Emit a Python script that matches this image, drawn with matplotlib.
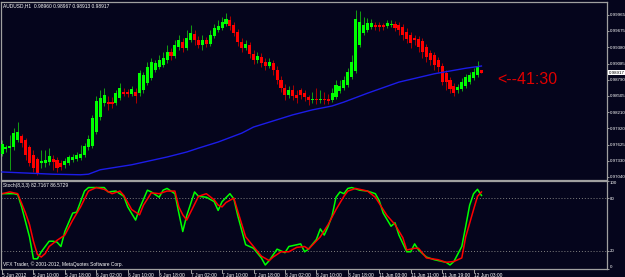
import numpy as np
import matplotlib
matplotlib.use('Agg')
import matplotlib.pyplot as plt
from matplotlib.transforms import ScaledTranslation, blended_transform_factory

# AUDUSD H1 candles, 5 Jun 2012 .. 12 Jun 2012
opens = [0.9745, 0.9754, 0.9756, 0.9758, 0.9771, 0.9778, 0.9771, 0.9758, 0.9744, 0.9736,
         0.9729, 0.9729, 0.9731, 0.9736, 0.9735, 0.9729, 0.9726, 0.9729, 0.9735, 0.9736,
         0.9738, 0.9744, 0.9758, 0.9760, 0.9785, 0.9812, 0.9837, 0.9839, 0.9839, 0.9837,
         0.9846, 0.9857, 0.9857, 0.9854, 0.9857, 0.9855, 0.9861, 0.9873, 0.9882, 0.9897,
         0.9902, 0.9906, 0.9915, 0.9929, 0.9922, 0.9938, 0.9947, 0.9937, 0.9951, 0.9962,
         0.9951, 0.9942, 0.9951, 0.9944, 0.9958, 0.9969, 0.9973, 0.9980, 0.9987, 0.9978,
         0.9965, 0.9947, 0.9937, 0.9942, 0.9926, 0.9915, 0.9920, 0.9911, 0.9904, 0.9909,
         0.9897, 0.9879, 0.9864, 0.9852, 0.9861, 0.9852, 0.9861, 0.9855, 0.9848, 0.9843,
         0.9845, 0.9843, 0.9845, 0.9845, 0.9843, 0.9848, 0.9859, 0.9864, 0.9870, 0.9884,
         0.9895, 0.9942, 0.9964, 0.9969, 0.9974, 0.9978, 0.9978, 0.9978, 0.9976, 0.9978,
         0.9980, 0.9978, 0.9974, 0.9965, 0.9960, 0.9955, 0.9953, 0.9949, 0.9938, 0.9928,
         0.9924, 0.9915, 0.9904, 0.9891, 0.9879, 0.9868, 0.9861, 0.9863, 0.9868, 0.9875,
         0.9882, 0.9888, 0.98960]
highs = [0.9771, 0.9762, 0.9780, 0.9792, 0.9803, 0.9782, 0.9774, 0.9762, 0.9753, 0.9740,
         0.9753, 0.9753, 0.9756, 0.9744, 0.9740, 0.9735, 0.9738, 0.9744, 0.9745, 0.9749,
         0.9762, 0.9765, 0.9780, 0.9816, 0.9850, 0.9861, 0.9864, 0.9850, 0.9848, 0.9861,
         0.9873, 0.9864, 0.9863, 0.9868, 0.9864, 0.9897, 0.9893, 0.9911, 0.9919, 0.9915,
         0.9924, 0.9929, 0.9942, 0.9937, 0.9951, 0.9960, 0.9955, 0.9969, 0.9978, 0.9969,
         0.9958, 0.9960, 0.9956, 0.9969, 0.9980, 0.9987, 0.9992, 1.0000, 0.9994, 0.9983,
         0.9971, 0.9955, 0.9951, 0.9947, 0.9933, 0.9929, 0.9928, 0.9919, 0.9919, 0.9915,
         0.9904, 0.9886, 0.9872, 0.9868, 0.9870, 0.9861, 0.9864, 0.9861, 0.9852, 0.9857,
         0.9864, 0.9861, 0.9857, 0.9854, 0.9864, 0.9879, 0.9879, 0.9886, 0.9900, 0.9924,
         1.0005, 1.0003, 0.9992, 0.9991, 0.9989, 0.9983, 0.9983, 0.9982, 0.9987, 0.9987,
         0.9985, 0.9983, 0.9980, 0.9973, 0.9965, 0.9960, 0.9958, 0.9955, 0.9944, 0.9933,
         0.9929, 0.9920, 0.9909, 0.9897, 0.9884, 0.9873, 0.9872, 0.9882, 0.9890, 0.9893,
         0.9900, 0.9913, 0.98967]
lows = [0.9742, 0.9749, 0.9717, 0.9753, 0.9767, 0.9758, 0.9735, 0.9724, 0.9713, 0.9708,
        0.9720, 0.9722, 0.9726, 0.9717, 0.9713, 0.9717, 0.9720, 0.9726, 0.9731, 0.9733,
        0.9735, 0.9740, 0.9753, 0.9756, 0.9782, 0.9807, 0.9832, 0.9825, 0.9828, 0.9834,
        0.9843, 0.9850, 0.9848, 0.9850, 0.9837, 0.9850, 0.9855, 0.9870, 0.9879, 0.9893,
        0.9899, 0.9902, 0.9909, 0.9915, 0.9919, 0.9933, 0.9929, 0.9933, 0.9947, 0.9942,
        0.9937, 0.9933, 0.9938, 0.9940, 0.9955, 0.9965, 0.9969, 0.9976, 0.9969, 0.9958,
        0.9940, 0.9929, 0.9933, 0.9919, 0.9908, 0.9909, 0.9902, 0.9897, 0.9900, 0.9888,
        0.9872, 0.9857, 0.9843, 0.9846, 0.9843, 0.9837, 0.9845, 0.9841, 0.9834, 0.9837,
        0.9836, 0.9837, 0.9836, 0.9836, 0.9839, 0.9845, 0.9855, 0.9861, 0.9866, 0.9881,
        0.9891, 0.9938, 0.9960, 0.9965, 0.9971, 0.9969, 0.9967, 0.9969, 0.9973, 0.9974,
        0.9967, 0.9960, 0.9951, 0.9946, 0.9937, 0.9942, 0.9929, 0.9919, 0.9911, 0.9906,
        0.9897, 0.9893, 0.9870, 0.9861, 0.9855, 0.9850, 0.9855, 0.9859, 0.9864, 0.9872,
        0.9879, 0.9884, 0.98913]
closes = [0.9763, 0.9758, 0.9760, 0.9783, 0.9785, 0.9765, 0.9744, 0.9729, 0.9720, 0.9711,
          0.9733, 0.9735, 0.9742, 0.9731, 0.9720, 0.9722, 0.9733, 0.9740, 0.9740, 0.9744,
          0.9745, 0.9760, 0.9773, 0.9810, 0.9841, 0.9846, 0.9852, 0.9836, 0.9836, 0.9855,
          0.9864, 0.9854, 0.9854, 0.9863, 0.9850, 0.9891, 0.9888, 0.9902, 0.9911, 0.9909,
          0.9915, 0.9919, 0.9929, 0.9922, 0.9942, 0.9951, 0.9937, 0.9955, 0.9964, 0.9951,
          0.9942, 0.9951, 0.9944, 0.9960, 0.9973, 0.9976, 0.9983, 0.9989, 0.9976, 0.9964,
          0.9947, 0.9937, 0.9944, 0.9926, 0.9915, 0.9922, 0.9909, 0.9904, 0.9911, 0.9897,
          0.9879, 0.9864, 0.9852, 0.9861, 0.9850, 0.9846, 0.9852, 0.9848, 0.9843, 0.9845,
          0.9843, 0.9845, 0.9843, 0.9841, 0.9855, 0.9870, 0.9868, 0.9879, 0.9893, 0.9911,
          0.9989, 0.9983, 0.9978, 0.9982, 0.9982, 0.9974, 0.9974, 0.9974, 0.9982, 0.9980,
          0.9973, 0.9969, 0.9960, 0.9953, 0.9946, 0.9951, 0.9938, 0.9929, 0.9920, 0.9915,
          0.9906, 0.9902, 0.9875, 0.9875, 0.9863, 0.9855, 0.9866, 0.9875, 0.9884, 0.9888,
          0.9893, 0.9904, 0.98917]

# moving average (blue), sampled along the line
ma_bars = [0, 13, 20, 22, 25, 33, 42, 47, 50, 55, 61, 64, 69, 74, 79, 84, 87, 93, 101, 110, 118, 122]
ma_vals = [0.9713, 0.9709, 0.9708, 0.9709, 0.9717, 0.9726, 0.9740, 0.9749, 0.9756, 0.9767, 0.9783,
           0.9794, 0.9805, 0.9816, 0.9825, 0.9832, 0.9839, 0.9855, 0.9875, 0.9890, 0.9900, 0.9904]

# stochastic (8,3,3): main (green) and signal (red)
k_bars = [0, 1, 3, 4, 5, 7, 8, 9, 10, 12, 13, 14, 15, 16, 18, 19, 21, 22, 24, 26,
          27, 29, 31, 32, 34, 35, 37, 38, 40, 41, 42, 44, 45, 46, 47, 49, 50, 52, 54, 55,
          56, 58, 59, 60, 62, 63, 64, 66, 67, 68, 70, 72, 73, 75, 76, 77, 78, 80, 81, 82,
          83, 84, 85, 86, 87, 88, 89, 91, 93, 95, 96, 97, 99, 100, 101, 103, 104, 105, 106, 108,
          110, 112, 113, 114, 115, 117, 118, 119, 120, 121, 122]
k_vals = [85, 85, 85, 84, 70, 36, 11, 11, 19, 31, 31, 30, 25, 42, 63, 64, 88, 92, 92, 92,
          87, 88, 82, 70, 55, 68, 89, 87, 81, 89, 91, 85, 63, 42, 60, 87, 82, 81, 76, 66,
          76, 85, 79, 60, 27, 25, 23, 12, 4, 9, 22, 18, 25, 27, 28, 19, 22, 33, 45, 38,
          48, 60, 81, 87, 85, 91, 92, 89, 88, 85, 77, 63, 48, 52, 38, 19, 19, 28, 21, 13,
          10, 8, 7, 4, 8, 25, 48, 72, 85, 90, 83]
d_bars = [0, 2, 4, 6, 7, 8, 9, 10, 11, 12, 14, 16, 18, 20, 22, 24, 26, 28, 30, 31,
          33, 35, 36, 38, 40, 42, 44, 45, 46, 47, 48, 50, 52, 54, 55, 56, 57, 59, 60, 62,
          64, 66, 68, 69, 71, 73, 75, 77, 78, 81, 83, 85, 87, 88, 90, 93, 95, 98, 100, 102,
          103, 105, 106, 108, 111, 113, 115, 117, 118, 120, 121, 122]
d_vals = [85, 87, 85, 63, 50, 31, 16, 13, 17, 25, 32, 38, 55, 70, 88, 92, 90, 85, 88, 83,
          67, 61, 72, 86, 85, 88, 88, 70, 61, 55, 64, 82, 85, 78, 72, 70, 75, 80, 65, 36,
          25, 14, 9, 13, 19, 19, 24, 25, 22, 36, 50, 67, 82, 88, 91, 88, 81, 60, 50, 35,
          21, 23, 23, 12, 10, 7, 8, 12, 36, 67, 82, 87]

time_bars = list(range(0, 121, 8))
time_labels = ['5 Jun 2012', '5 Jun 10:00', '5 Jun 18:00', '6 Jun 02:00', '6 Jun 10:00',
               '6 Jun 18:00', '7 Jun 02:00', '7 Jun 10:00', '7 Jun 18:00', '8 Jun 02:00',
               '8 Jun 10:00', '8 Jun 18:00', '11 Jun 03:00', '11 Jun 11:00', '11 Jun 19:00',
               '12 Jun 03:00']
price_ticks = [0.99965, 0.99675, 0.99380, 0.99085, 0.98790, 0.98505, 0.98210,
               0.97920, 0.97625, 0.97330, 0.97040]
stoch_ticks = [0, 20, 80, 100]

bg = '#05051c'
frame = '#a0a0a0'
small = ['Liberation Sans', 'DejaVu Sans']
fs = 3.5
W, H = 625, 277

fig = plt.figure(figsize=(6.25, 2.77), dpi=100, facecolor=bg)
ax = fig.add_axes([1 / W, 1 - 179.5 / H, 606 / W, 177.5 / H], facecolor=bg)
ax2 = fig.add_axes([1 / W, 1 - 268.5 / H, 606 / W, 88 / H], facecolor=bg)
xlim = (-0.25, -0.25 + 606 / 3.93)

# candles: wicks first, bodies on top
o = np.array(opens)
c = np.array(closes)
x = np.arange(len(c))
up = c >= o
wick_cols = np.where(up, '#129a12', '#a80000')
body_cols = np.where(up, '#00ff00', '#ff0000')
ax.vlines(x, lows, highs, colors=wick_cols, lw=0.72, zorder=2)
body = np.where(np.abs(c - o) < 0.00003, 0.00003, c - o)
ax.bar(x, body, bottom=o, width=0.78, color=body_cols, linewidth=0,
       antialiased=False, zorder=3)

ax.plot(ma_bars, ma_vals, color='#1c1ce8', lw=1.0, zorder=4)

ax.text(126, 0.9879, '<--41:30', color='#e00000', fontsize=11.5,
        family='Liberation Sans', va='center', ha='left')

ax.set_xlim(*xlim)
ax.set_ylim(1.0023 - 0.00018025 * 179.5, 1.0023 - 0.00018025 * 2)
ax.set_xticks([])
ax.yaxis.tick_right()
ax.set_yticks(price_ticks)
ax.set_yticklabels(['%.5f' % v for v in price_ticks], family=small)
ax.tick_params(axis='y', length=1.5, width=0.7, color=frame, labelcolor='white',
               labelsize=3.2, pad=0.4)

# current price marker
tr = blended_transform_factory(ax.transAxes, ax.transData)
ax.text(1.0, closes[-1], '%.5f' % closes[-1],
        transform=tr + ScaledTranslation(2 / 100, 0, fig.dpi_scale_trans),
        ha='left', va='center', fontsize=3.2, family=small, color='black',
        bbox=dict(facecolor='white', edgecolor='none', pad=0.4))

# stochastic window
ax2.axhline(80, color='#808080', lw=0.7, ls=(0, (1, 2)))
ax2.axhline(20, color='#808080', lw=0.7, ls=(0, (1, 2)))
ax2.plot(k_bars, k_vals, color='#00ff00', lw=1.1)
ax2.plot(d_bars, d_vals, color='#ff0000', lw=1.1)
ax2.set_xlim(*xlim)
ax2.set_ylim(0, 100)
ax2.yaxis.tick_right()
ax2.set_yticks(stoch_ticks)
ylabs = ax2.set_yticklabels([str(v) for v in stoch_ticks], family=small)
ylabs[0].set_va('bottom')
ylabs[-1].set_va('top')
ax2.tick_params(axis='y', length=1.5, width=0.7, color=frame, labelcolor='white',
                labelsize=3.2, pad=0.4)
ax2.set_xticks(time_bars)
xlabs = ax2.set_xticklabels(time_labels, ha='left', family=small)
for lab in xlabs:
    lab.set_transform(lab.get_transform() + ScaledTranslation(1.5 / 100, 0, fig.dpi_scale_trans))
ax2.tick_params(axis='x', length=3, width=0.7, color=frame, labelcolor='white',
                labelsize=fs, pad=0.5)

for a in (ax, ax2):
    for s in a.spines.values():
        s.set_color(frame)
        s.set_linewidth(0.9)

fig.text(3 / W, 1 - 5.5 / H, 'AUDUSD,H1  0.98960 0.98967 0.98913 0.98917', color='white',
         fontsize=fs, family=small, va='center')
fig.text(3 / W, 1 - 185 / H, 'Stoch(8,3,3) 82.7167 86.5729', color='white',
         fontsize=fs, family=small, va='center')
fig.text(3 / W, 1 - 264 / H, 'VFX Trader, \u00a9 2001-2012, MetaQuotes Software Corp.', color='white',
         fontsize=fs, family=small, va='center')

fig.savefig('out.png', dpi=100, facecolor=bg)
